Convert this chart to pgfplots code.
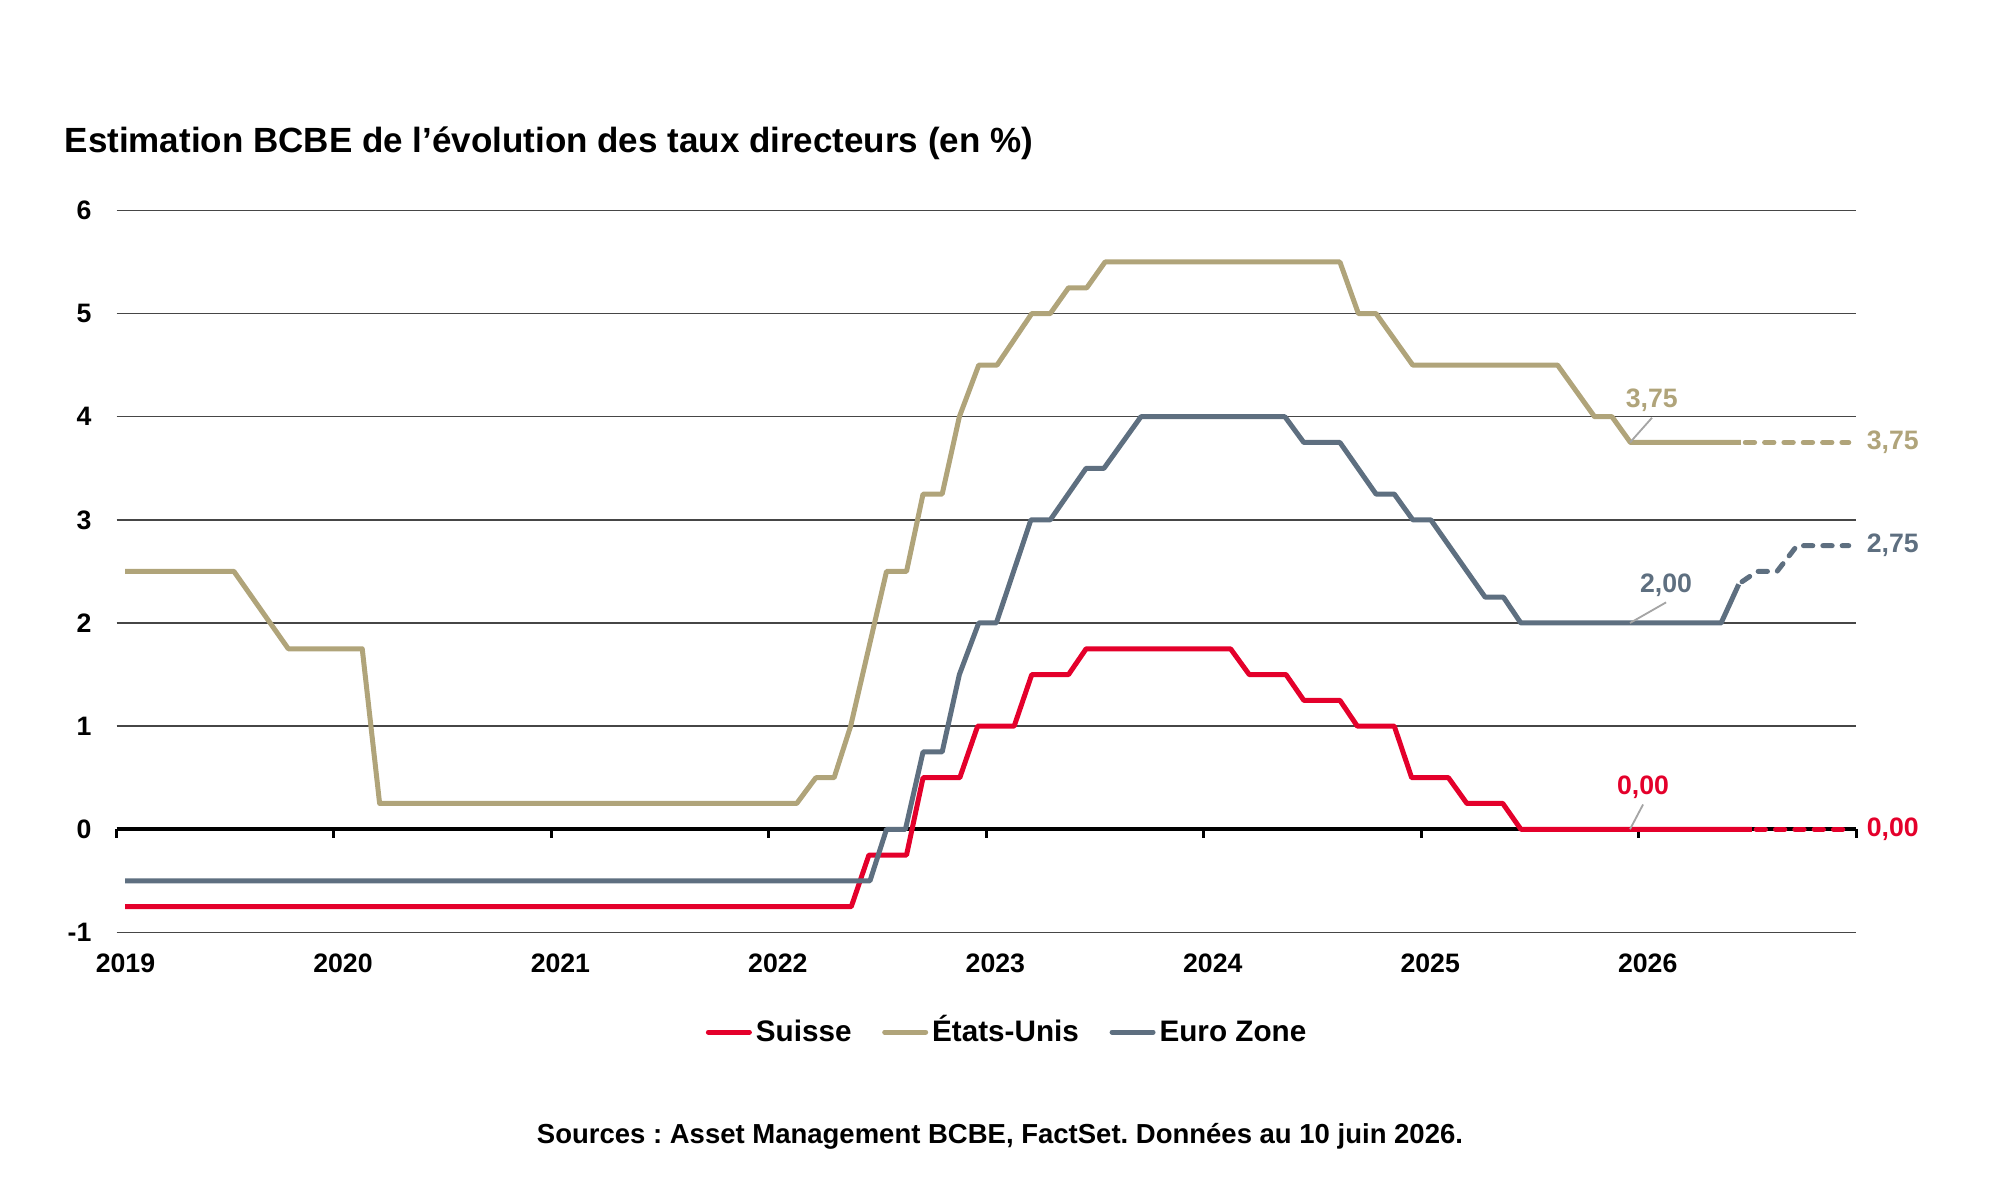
\documentclass[border=0pt]{standalone}
\usepackage{fontspec}
\setmainfont{Liberation Sans}
\usepackage{pgfplots}
\pgfplotsset{compat=1.18}
\frenchspacing
\definecolor{chred}{RGB}{228,0,43}
\definecolor{chtan}{RGB}{176,164,122}
\definecolor{chblue}{RGB}{94,111,128}
\definecolor{leader}{RGB}{165,165,165}
\definecolor{gridc}{RGB}{70,70,70}
\begin{document}
\begin{tikzpicture}
\path[use as bounding box] (0,0) rectangle (600pt,360pt);
\node[anchor=base west, font=\bfseries\fontsize{10.5}{12}\selectfont, inner sep=0pt] at (19.2pt,314.4pt) {Estimation BCBE de l’évolution des taux directeurs (en \%)};
\begin{axis}[
 at={(34.95pt,80.28pt)}, anchor=south west,
 scale only axis, width=521.9pt, height=216.6pt,
 xmin=2019, xmax=2027, ymin=-1, ymax=6,
 axis line style={draw=none},
 xtick={2019,2020,2021,2022,2023,2024,2025,2026},
 xticklabels={2019,2020,2021,2022,2023,2024,2025,2026},
 ytick={-1,0,1,2,3,4,5,6},
 yticklabels={-1,0,1,2,3,4,5,6},
 major tick length=0pt,
 ymajorgrids, grid style={color=gridc, line width=0.45pt},
 tick label style={font=\bfseries\fontsize{8}{9}\selectfont},
 yticklabel style={xshift=-4pt},
 xticklabel style={yshift=-3pt, xshift=2.7pt},
 clip=false,
 legend columns=-1,
 legend style={at={(0.5125,0)}, anchor=center, yshift=-29.9pt, draw=none, fill=none,
   font=\bfseries\fontsize{8.9}{10}\selectfont, inner sep=0pt,
   nodes={inner sep=1.2pt, text height=7pt, text depth=1.5pt},
   /tikz/every even column/.append style={column sep=8pt}},
 legend image code/.code={\draw[#1, line cap=round] (0pt,0pt) -- (12.3pt,0pt);},
 every axis plot/.append style={line width=1.5pt, line join=round},
]
% zero line and ticks
\addplot[black, line width=1.1pt, forget plot] coordinates {(2019,0) (2027,0)};
\pgfplotsinvokeforeach{2019,2020,2021,2022,2023,2024,2025,2026,2027}{
  \draw[black, line width=0.9pt] (axis cs:#1,0) -- ++(0pt,-2.6pt);
}
% Suisse
\addplot[chred] coordinates {
(2019.04,-0.75) (2022.379,-0.75) (2022.460,-0.25) (2022.633,-0.25) (2022.709,0.5)
(2022.878,0.5) (2022.960,1.0) (2023.128,1.0) (2023.209,1.5) (2023.378,1.5)
(2023.459,1.75) (2024.123,1.75) (2024.209,1.5) (2024.378,1.5) (2024.460,1.25)
(2024.626,1.25) (2024.706,1.0) (2024.876,1.0) (2024.956,0.5) (2025.125,0.5)
(2025.21,0.25) (2025.375,0.25) (2025.458,0) (2026.52,0)};
\addlegendentry{Suisse}
% Etats-Unis
\addplot[chtan] coordinates {
(2019.04,2.5) (2019.54,2.5) (2019.79,1.75) (2020.13,1.75) (2020.21,0.25)
(2022.128,0.25) (2022.216,0.5) (2022.30,0.5) (2022.376,1.0) (2022.541,2.5)
(2022.633,2.5) (2022.709,3.25) (2022.797,3.25) (2022.876,4.0) (2022.965,4.5)
(2023.049,4.5) (2023.209,5.0) (2023.294,5.0) (2023.378,5.25) (2023.462,5.25)
(2023.546,5.5) (2024.626,5.5) (2024.711,5.0) (2024.792,5.0) (2024.961,4.5)
(2025.627,4.5) (2025.797,4.0) (2025.877,4.0) (2025.962,3.75) (2026.47,3.75)};
\addlegendentry{États-Unis}
% Euro Zone
\addplot[chblue] coordinates {
(2019.04,-0.5) (2022.465,-0.5) (2022.541,0) (2022.628,0) (2022.709,0.75)
(2022.797,0.75) (2022.876,1.5) (2022.965,2.0) (2023.046,2.0) (2023.205,3.0)
(2023.294,3.0) (2023.459,3.5) (2023.541,3.5) (2023.711,4.0) (2024.373,4.0)
(2024.460,3.75) (2024.626,3.75) (2024.792,3.25) (2024.876,3.25) (2024.961,3.0)
(2025.044,3.0) (2025.294,2.25) (2025.378,2.25) (2025.458,2.0) (2026.379,2.0)
(2026.46,2.375)};
\addlegendentry{Euro Zone}
% forecasts (dashed)
\addplot[chred, line cap=round, dash pattern=on 2.8pt off 3pt, forget plot] coordinates {(2026.54,0) (2026.966,0)};
\addplot[chtan, line cap=round, dash pattern=on 2.8pt off 3pt, forget plot] coordinates {(2026.49,3.75) (2026.966,3.75)};
\addplot[chblue, line cap=round, dash pattern=on 2.8pt off 3pt, forget plot] coordinates {(2026.475,2.4) (2026.544,2.5) (2026.636,2.5) (2026.728,2.75) (2026.966,2.75)};
% annotations
\draw[leader, line width=0.55pt] (axis cs:2025.96,3.75) -- (axis cs:2026.061,3.99);
\draw[leader, line width=0.55pt] (axis cs:2025.96,2.0) -- (axis cs:2026.126,2.2);
\draw[leader, line width=0.55pt] (axis cs:2025.96,0) -- (axis cs:2026.02,0.24);
\node[text=chtan, font=\bfseries\fontsize{8}{9}\selectfont, inner sep=0pt] at (axis cs:2026.06,4.16) {3,75};
\node[text=chblue, font=\bfseries\fontsize{8}{9}\selectfont, inner sep=0pt] at (axis cs:2026.126,2.37) {2,00};
\node[text=chred, font=\bfseries\fontsize{8}{9}\selectfont, inner sep=0pt] at (axis cs:2026.02,0.41) {0,00};
\node[text=chtan, font=\bfseries\fontsize{8}{9}\selectfont, inner sep=0pt, anchor=west, xshift=3pt] at (axis cs:2027,3.75) {3,75};
\node[text=chblue, font=\bfseries\fontsize{8}{9}\selectfont, inner sep=0pt, anchor=west, xshift=3pt] at (axis cs:2027,2.75) {2,75};
\node[text=chred, font=\bfseries\fontsize{8}{9}\selectfont, inner sep=0pt, anchor=west, xshift=3pt] at (axis cs:2027,0) {0,00};
\end{axis}
\node[font=\bfseries\fontsize{8.25}{9}\selectfont, anchor=base, inner sep=0pt] at (300pt,17.1pt) {Sources : Asset Management BCBE, FactSet. Données au 10 juin 2026.};
\end{tikzpicture}
\end{document}
